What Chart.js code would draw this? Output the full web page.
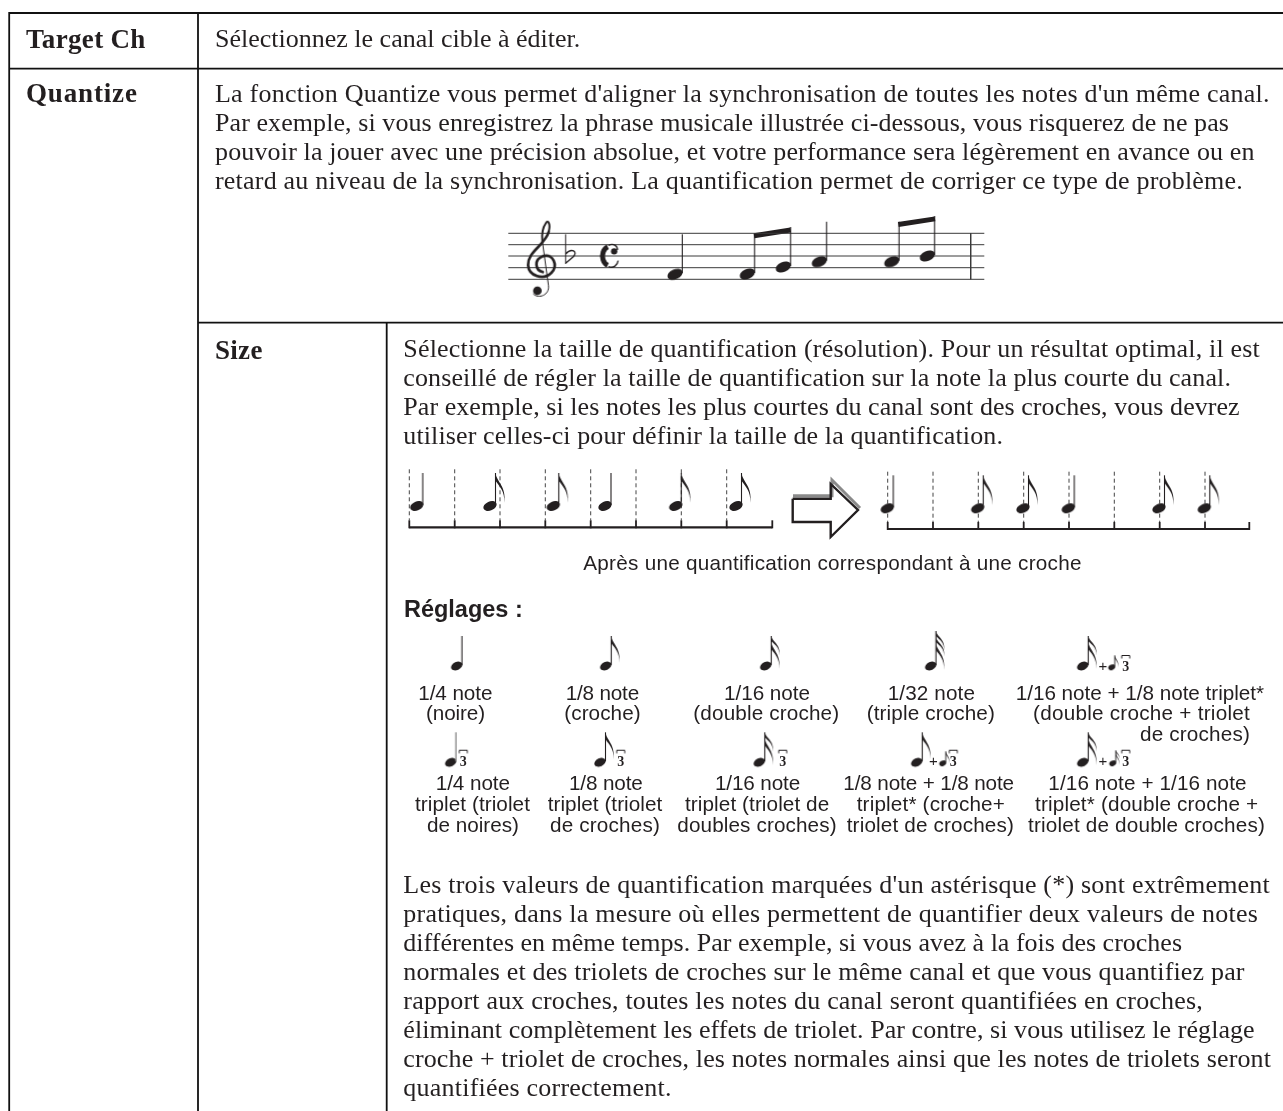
<!DOCTYPE html>
<html lang="fr"><head><meta charset="utf-8">
<style>html,body{margin:0;padding:0;background:#fff}canvas{display:block}</style>
<script src="https://cdn.jsdelivr.net/npm/chart.js@4"></script></head>
<body><canvas id="c" width="1283" height="1111"></canvas>
<script>
// ---------- text ----------
const headings = ["Target Ch", "Quantize", "Size"];
const introLine = ["Sélectionnez le canal cible à éditer."];
const quantizeLines = [
 "La fonction Quantize vous permet d'aligner la synchronisation de toutes les notes d'un même canal.",
 "Par exemple, si vous enregistrez la phrase musicale illustrée ci-dessous, vous risquerez de ne pas",
 "pouvoir la jouer avec une précision absolue, et votre performance sera légèrement en avance ou en",
 "retard au niveau de la synchronisation. La quantification permet de corriger ce type de problème."];
const sizeLines = [
 "Sélectionne la taille de quantification (résolution). Pour un résultat optimal, il est",
 "conseillé de régler la taille de quantification sur la note la plus courte du canal.",
 "Par exemple, si les notes les plus courtes du canal sont des croches, vous devrez",
 "utiliser celles-ci pour définir la taille de la quantification."];
const closingLines = [
 "Les trois valeurs de quantification marquées d'un astérisque (*) sont extrêmement",
 "pratiques, dans la mesure où elles permettent de quantifier deux valeurs de notes",
 "différentes en même temps. Par exemple, si vous avez à la fois des croches",
 "normales et des triolets de croches sur le même canal et que vous quantifiez par",
 "rapport aux croches, toutes les notes du canal seront quantifiées en croches,",
 "éliminant complètement les effets de triolet. Par contre, si vous utilisez le réglage",
 "croche + triolet de croches, les notes normales ainsi que les notes de triolets seront",
 "quantifiées correctement."];
const captionLine = ["Après une quantification correspondant à une croche"];
const settingsTitle = ["Réglages :"];
const noteLabels = [
 "1/4 note","(noire)","1/8 note","(croche)","1/16 note","(double croche)","1/32 note","(triple croche)",
 "1/16 note + 1/8 note triplet*","(double croche + triolet","de croches)",
 "1/4 note","triplet (triolet","de noires)","1/8 note","triplet (triolet","de croches)",
 "1/16 note","triplet (triolet de","doubles croches)","1/8 note + 1/8 note","triplet* (croche+","triolet de croches)",
 "1/16 note + 1/16 note","triplet* (double croche +","triolet de double croches)"];

// ---------- text placement (left, right, baseline) ----------
const headingBox = [[26,145.7,47.5],[26,137.7,102],[215,262.7,358.5]];
const introBox = [[215,null,47]];
const quantizeRight = [1269.7,1229,1254.7,1243];
const quantizeBase = [101.5,130.5,159.5,188.5];
const sizeRight = [1260,1231,1239.7,1003];
const sizeBase = [356.7,385.7,414.7,443.7];
const closingRight = [1270,1258,1182,1244.7,1203,1254.7,1271,671.7];
const closingBase = [892.7,921.8,950.9,980,1009.1,1038.2,1067.3,1096.4];
const captionBox = [[583.3,1081.7,570]];
const titleBox = [[404,522.7,616.5]];
const labelBox = [
 [418.3,492.3,700],[426,485,719.7],[565.7,639,700],[564.3,640.7,719.7],[724,810,700],[693.3,839.3,719.7],
 [887.7,975,700],[866.7,995,719.7],[1015.7,1264,700],[1033,1250,719.7],[1140,1250,740.5],
 [435.7,510,790],[415,530,811],[427,519,831.5],[569,642.7,790],[547.7,662.3,811],[550,660,831.5],
 [715,800,790],[685,829.3,811],[677.3,836.7,831.5],[843.3,1014,790],[856.7,1005,811],[846.7,1014,831.5],
 [1048.3,1246.7,790],[1035,1258.3,811],[1028,1265,831.5]];
const plusX = [1103,933.3,1103];
const plusY = [671,766,766];
const tripletDigitX = [1125.7,463.3,620.7,782.7,953.3,1125.7];
const tripletDigitY = [671,766,766,766,766,766];

// ---------- table rules ----------
const ruleX = [[9,1283],[9,1283],[198,1283],[9.2,9.2],[198,198],[386.7,386.7]];
const ruleY = [[13,13],[68.7,68.7],[322.7,322.7],[12,1111],[13,1111],[322,1111]];

// ---------- staff ----------
const staffLines = [233.3,244.7,256,267.7,279.3];
const staffSpan = [508.3,984.3];
const barX = [970.7,970.7];
const barY = [233.3,279.3];
const staffNoteX = [675,747.3,783.3,819.3,891.7,927.3];
const staffNoteY = [274.3,274,267,261.7,261.7,256];
const beamX = [[754,790.7],[898.3,935]];
const beamY = [[235.7,230],[224.5,218.9]];
const clefPoint = [[541.7,266.7]];
const flatPoint = [[568.3,255]];
const commonPoint = [[608.5,256]];

// ---------- rhythm figures ----------
const beforeGrid = [409.3,454.7,500,545.3,590.7,636,681.3,726.7,772.3];
const afterGrid = [887.7,933,978.3,1023.7,1069,1114.3,1159.7,1205,1249.3];
const beforeQuarterX = [416.7,605];
const beforeEighthX = [490,553.3,675.7,736];
const afterQuarterX = [887.3,1068.3];
const afterEighthX = [977.7,1023,1159,1204.3];
const arrowX = [792.7,830.7,830.7,858,830.7,830.7,792.7,792.7];
const arrowY = [498.8,498.8,484,510,537,522,522,498.8];
const arrowShadowX = [793,832,832,860];
const arrowShadowY = [495.7,495.7,480,508];

// ---------- settings glyphs ----------
const quarterSet = [[456.7,666]];
const quarterTriplet = [[450.7,762.3]];
const eighthSet = [[605.7,666],[600,762.3],[916.7,762.3]];
const sixteenthSet = [[765.7,666],[759.3,762.3],[1082.7,666],[1082.7,762.3]];
const thirtySecondSet = [[930.7,666]];
const smallEighthSet = [[1111.7,667.3],[942.7,763.3]];
const smallSixteenthSet = [[1112.7,763.3]];
const bracketSet = [[1125.7,656],[463.3,750.7],[620.7,750.7],[782.7,750.7],[953.3,750.7],[1125.7,750.7]];

// ---------- glyph drawing ----------
const INK = '#231f20';
function sprite(w,h,draw){const c=document.createElement('canvas');c.width=w;c.height=h;
 const g=c.getContext('2d');g.translate(w/2,h/2);g.fillStyle=INK;g.strokeStyle=INK;g.lineCap='butt';draw(g);return c;}
function note(o){return sprite(90,130,g=>{
 g.beginPath();g.ellipse(0,0,o.rx,o.ry,-24*Math.PI/180,0,Math.PI*2);g.fill();
 const sx=o.dx,top=-o.len;
 g.strokeStyle=o.stem||INK;g.lineWidth=o.sw||1.1;g.beginPath();g.moveTo(sx,-1);g.lineTo(sx,top);g.stroke();
 const s=o.fs||1;
 for(let i=0;i<(o.flags||0);i++){const y=top+i*6*s;const f=(o.flags>1&&i<o.flags-1)?0.72:1;
  g.beginPath();g.moveTo(sx,y);
  g.bezierCurveTo(sx+1*s,y+8*s*f,sx+10*s,y+12*s*f,sx+8*s,y+27*s*f);
  g.bezierCurveTo(sx+8.4*s,y+16*s*f,sx+4*s,y+13*s*f,sx,y+7*s*f);
  g.closePath();g.fill();}
});}
const staffHead=note({rx:8,ry:5,dx:7.3,len:40});
const rhythmQuarter=note({rx:7,ry:4.5,dx:6,len:33});
const rhythmEighth=note({rx:7,ry:4.5,dx:5.5,len:33,flags:1,fs:1.1});
const setQ=note({rx:6,ry:4,dx:5.2,len:30});
const setQT=note({rx:6,ry:4,dx:5.2,len:30,stem:'#8c8c8c',sw:1.4});
const set8=note({rx:6,ry:4,dx:5.5,len:30,flags:1});
const set16=note({rx:6,ry:4,dx:5.5,len:30,flags:2});
const set32=note({rx:6,ry:4,dx:5.2,len:35,flags:3});
const small8=note({rx:3.6,ry:2.6,dx:3,len:12,flags:1,fs:.45,sw:.9});
const small16=note({rx:3.6,ry:2.6,dx:3,len:13,flags:2,fs:.45,sw:.9});
const bracket=sprite(14,8,g=>{g.lineWidth=1;g.beginPath();g.moveTo(-4,2.5);g.lineTo(-4,-.5);g.lineTo(4,-.5);g.lineTo(4,2.5);g.stroke();});
const clef=sprite(60,110,g=>{g.scale(1/3,1/3);g.translate(-185,-290);
 g.lineCap='round';g.lineJoin='round';
 g.lineWidth=8;g.beginPath();g.moveTo(188,306);g.bezierCurveTo(165,300,160,268,190,258);
 g.bezierCurveTo(218,250,236,285,214,308);g.bezierCurveTo(190,332,146,318,144,285);
 g.bezierCurveTo(142,245,195,225,206,185);g.stroke();
 g.lineWidth=6;g.beginPath();g.moveTo(206,185);g.bezierCurveTo(212,160,204,150,198,158);g.bezierCurveTo(188,172,184,190,187,215);g.stroke();
 g.lineWidth=3;g.beginPath();g.moveTo(187,215);g.lineTo(205,345);g.bezierCurveTo(210,375,175,388,160,372);g.stroke();
 g.beginPath();g.arc(172,362,13,0,Math.PI*2);g.fill();});
const flat=sprite(30,50,g=>{g.scale(1/3,1/3);g.translate(-265,-255);g.lineWidth=3;
 g.beginPath();g.moveTo(257,193);g.lineTo(257,282);g.stroke();
 g.lineWidth=4;g.beginPath();g.moveTo(257,252);g.bezierCurveTo(275,232,295,245,280,260);g.lineTo(257,280);g.stroke();});
const common=sprite(34,40,g=>{g.scale(1/3,1/3);g.translate(-385,-258);
 g.lineWidth=15;g.beginPath();g.ellipse(392,258,25,30,0,-Math.PI*.62,Math.PI*.62,true);g.stroke();
 g.lineWidth=4;g.beginPath();g.moveTo(385,226);g.bezierCurveTo(400,218,412,228,412,240);g.moveTo(385,290);g.bezierCurveTo(400,296,412,286,414,272);g.stroke();
 g.beginPath();g.arc(402,244,9.5,0,Math.PI*2);g.fill();});

// ---------- datasets ----------
const pairs=(xs,ys)=>xs.map((x,i)=>({x,y:ys[i]}));
const line=(xs,ys,color=INK,width=1,dash=[])=>({type:'scatter',showLine:true,data:pairs(xs,ys),borderColor:color,borderWidth:width,borderDash:dash,pointRadius:0,tension:0,fill:false,clip:false});
const pts=(list,style)=>({type:'scatter',data:list.map(p=>({x:p[0],y:p[1]})),pointStyle:style,pointRadius:5,pointBorderWidth:0,clip:false});
const datasets=[];
datasets.push(pts(staffNoteX.map((x,i)=>[x,staffNoteY[i]]),staffHead));
datasets.push(pts(clefPoint,clef),pts(flatPoint,flat),pts(commonPoint,common));
[[beforeQuarterX,506,rhythmQuarter],[beforeEighthX,506,rhythmEighth],[afterQuarterX,508.3,rhythmQuarter],[afterEighthX,508.3,rhythmEighth]]
 .forEach(([xs,y,st])=>datasets.push(pts(xs.map(x=>[x,y]),st)));
[[quarterSet,setQ],[quarterTriplet,setQT],[eighthSet,set8],[sixteenthSet,set16],[thirtySecondSet,set32],[smallEighthSet,small8],[smallSixteenthSet,small16],[bracketSet,bracket]]
 .forEach(([l,st])=>datasets.push(pts(l,st)));
ruleX.forEach((xs,i)=>datasets.push(line(xs,ruleY[i],'#111',1.8)));
staffLines.forEach(y=>datasets.push(line(staffSpan,[y,y],'#3a3a3a',1)));
datasets.push(line(barX,barY,'#3a3a3a',1));
beamX.forEach((xs,i)=>datasets.push(line(xs,beamY[i],INK,5)));
[[beforeGrid,527.3,469.3],[afterGrid,529,471.7]].forEach(([g,base,top])=>{
 datasets.push(line([g[0],g[g.length-1]],[base,base],INK,2.2));
 g.forEach((x,i)=>{
  datasets.push(line([x,x],[base+1,base-7],INK,1.8));
  if(i<g.length-1)datasets.push(line([x,x],[top,base-7],'#444',1,[4,3]));
 });
});
datasets.push(line(arrowX,arrowY,INK,2.4));
datasets.push(line(arrowShadowX,arrowShadowY,'#8a8a8a',3));

// ---------- text layer ----------
function put(ctx,sc,str,l,r,b,font){
 ctx.font=font;ctx.letterSpacing='0px';
 if(r!==null){
  const w=ctx.measureText(str).width;
  ctx.letterSpacing=((r-l-w)/Math.max(1,str.length))+'px';
 }
 ctx.fillText(str,sc.x.getPixelForValue(l),sc.y.getPixelForValue(b));
 ctx.letterSpacing='0px';
}
const SERIF='"Liberation Serif"',SANS='"Liberation Sans"';
const textLayer={id:'textLayer',afterDatasetsDraw(chart){
 const ctx=chart.ctx,sc=chart.scales;ctx.save();ctx.fillStyle=INK;ctx.textAlign='left';ctx.textBaseline='alphabetic';
 const body='26px '+SERIF;
 headings.forEach((s,i)=>put(ctx,sc,s,headingBox[i][0],headingBox[i][1],headingBox[i][2],'bold 27px '+SERIF));
 put(ctx,sc,introLine[0],introBox[0][0],introBox[0][1],introBox[0][2],body);
 quantizeLines.forEach((s,i)=>put(ctx,sc,s,215,quantizeRight[i],quantizeBase[i],body));
 sizeLines.forEach((s,i)=>put(ctx,sc,s,403.3,sizeRight[i],sizeBase[i],body));
 closingLines.forEach((s,i)=>put(ctx,sc,s,403.3,closingRight[i],closingBase[i],body));
 put(ctx,sc,captionLine[0],captionBox[0][0],captionBox[0][1],captionBox[0][2],'20.7px '+SANS);
 put(ctx,sc,settingsTitle[0],titleBox[0][0],titleBox[0][1],titleBox[0][2],'bold 23.5px '+SANS);
 noteLabels.forEach((s,i)=>put(ctx,sc,s,labelBox[i][0],labelBox[i][1],labelBox[i][2],'20.7px '+SANS));
 ctx.textAlign='center';
 ctx.font='15px '+SANS;plusX.forEach((x,i)=>ctx.fillText('+',sc.x.getPixelForValue(x),sc.y.getPixelForValue(plusY[i])));
 ctx.font='bold 14px '+SERIF;tripletDigitX.forEach((x,i)=>ctx.fillText('3',sc.x.getPixelForValue(x),sc.y.getPixelForValue(tripletDigitY[i])));
 ctx.restore();
}};

new Chart(document.getElementById('c'),{
 type:'scatter',
 data:{datasets},
 plugins:[textLayer],
 options:{responsive:false,animation:false,events:[],
  layout:{padding:0,autoPadding:false},
  plugins:{legend:{display:false},title:{display:false},tooltip:{enabled:false}},
  scales:{x:{type:'linear',display:false,min:0,max:1283},y:{type:'linear',display:false,min:0,max:1111,reverse:true}}}
});
</script></body></html>
